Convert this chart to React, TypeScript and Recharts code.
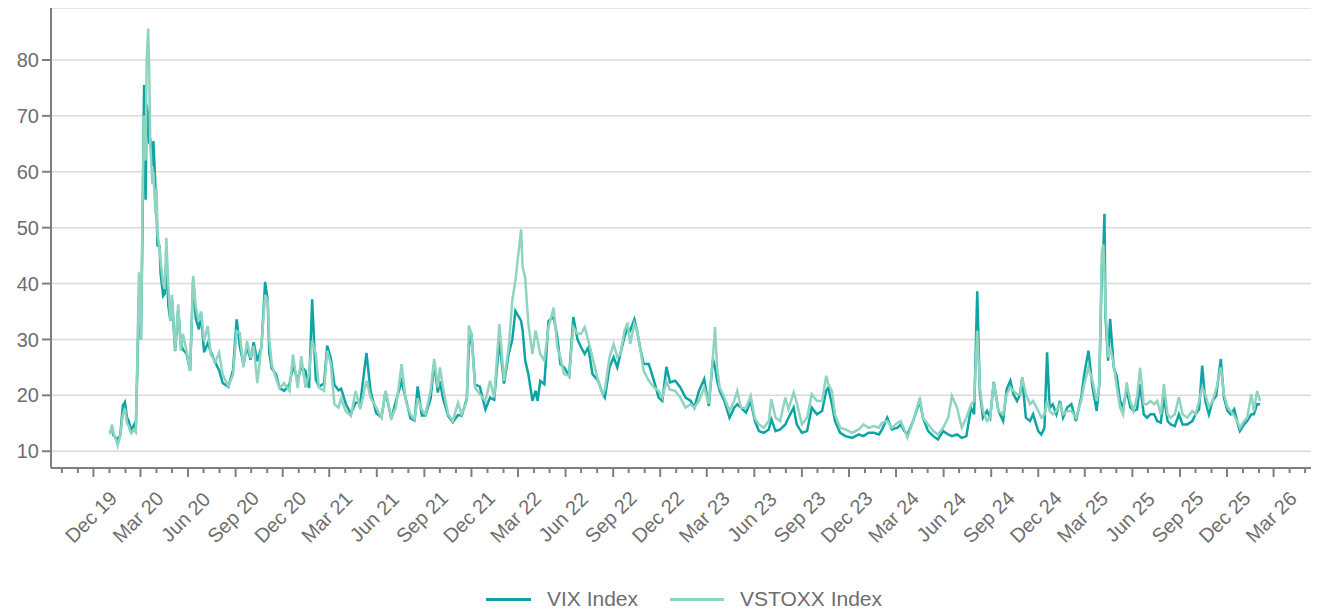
import { LineChart, Line, XAxis, YAxis, CartesianGrid, Legend } from 'recharts';

const DATES = [
  // 2020
  '2020-01-02', '2020-01-06', '2020-01-09', '2020-01-14', '2020-01-17', '2020-01-22', '2020-01-27', '2020-01-31', '2020-02-04', '2020-02-07',
  '2020-02-12', '2020-02-18', '2020-02-21', '2020-02-24', '2020-02-27', '2020-03-02', '2020-03-05', '2020-03-08', '2020-03-11', '2020-03-13',
  '2020-03-16', '2020-03-18', '2020-03-20', '2020-03-24', '2020-03-26', '2020-03-30', '2020-04-01', '2020-04-03', '2020-04-07', '2020-04-09',
  '2020-04-14', '2020-04-17', '2020-04-20', '2020-04-24', '2020-04-28', '2020-05-01', '2020-05-07', '2020-05-13', '2020-05-18', '2020-05-22',
  '2020-05-29', '2020-06-05', '2020-06-11', '2020-06-16', '2020-06-22', '2020-06-26', '2020-07-02', '2020-07-09', '2020-07-15', '2020-07-24',
  '2020-07-31', '2020-08-07', '2020-08-18', '2020-08-27', '2020-09-03', '2020-09-09', '2020-09-16', '2020-09-23', '2020-09-30', '2020-10-06',
  '2020-10-13', '2020-10-21', '2020-10-28', '2020-11-02', '2020-11-05', '2020-11-10', '2020-11-18', '2020-11-25', '2020-12-04', '2020-12-14',
  '2020-12-21', '2020-12-30',
  // 2021
  '2021-01-06', '2021-01-14', '2021-01-21', '2021-01-27', '2021-02-03', '2021-02-09', '2021-02-19', '2021-02-25', '2021-03-04', '2021-03-11',
  '2021-03-19', '2021-03-24', '2021-04-02', '2021-04-12', '2021-04-21', '2021-04-30', '2021-05-12', '2021-05-20', '2021-05-31', '2021-06-10',
  '2021-06-18', '2021-06-29', '2021-07-08', '2021-07-19', '2021-07-27', '2021-08-05', '2021-08-13', '2021-08-19', '2021-08-27', '2021-09-03',
  '2021-09-13', '2021-09-20', '2021-09-27', '2021-10-01', '2021-10-07', '2021-10-17', '2021-10-26', '2021-11-05', '2021-11-12', '2021-11-22',
  '2021-11-26', '2021-12-01', '2021-12-08', '2021-12-17', '2021-12-28',
  // 2022
  '2022-01-06', '2022-01-14', '2022-01-24', '2022-02-02', '2022-02-11', '2022-02-18', '2022-02-24', '2022-03-07', '2022-03-10', '2022-03-15',
  '2022-03-21', '2022-03-29', '2022-04-04', '2022-04-08', '2022-04-13', '2022-04-21', '2022-04-29', '2022-05-09', '2022-05-16', '2022-05-22',
  '2022-05-29', '2022-06-08', '2022-06-16', '2022-06-24', '2022-07-01', '2022-07-08', '2022-07-15', '2022-07-23', '2022-08-03', '2022-08-12',
  '2022-08-16', '2022-08-25', '2022-09-02', '2022-09-09', '2022-09-15', '2022-09-23', '2022-09-29', '2022-10-04', '2022-10-12', '2022-10-17',
  '2022-10-23', '2022-10-30', '2022-11-09', '2022-11-19', '2022-11-28', '2022-12-05', '2022-12-13', '2022-12-20', '2022-12-30',
  // 2023
  '2023-01-09', '2023-01-19', '2023-01-29', '2023-02-05', '2023-02-14', '2023-02-24', '2023-03-05', '2023-03-13', '2023-03-17', '2023-03-21',
  '2023-03-26', '2023-04-04', '2023-04-14', '2023-04-23', '2023-04-29', '2023-05-06', '2023-05-16', '2023-05-25', '2023-06-02', '2023-06-10',
  '2023-06-19', '2023-06-29', '2023-07-04', '2023-07-12', '2023-07-21', '2023-07-31', '2023-08-06', '2023-08-16', '2023-08-22', '2023-09-01',
  '2023-09-11', '2023-09-20', '2023-09-30', '2023-10-10', '2023-10-18', '2023-10-22', '2023-10-29', '2023-11-04', '2023-11-14', '2023-11-24',
  '2023-12-07', '2023-12-20', '2023-12-29',
  // 2024
  '2024-01-08', '2024-01-18', '2024-01-28', '2024-02-03', '2024-02-13', '2024-02-22', '2024-03-04', '2024-03-10', '2024-03-17', '2024-03-23',
  '2024-04-03', '2024-04-16', '2024-04-22', '2024-05-02', '2024-05-12', '2024-05-21', '2024-05-31', '2024-06-10', '2024-06-17', '2024-06-27',
  '2024-07-06', '2024-07-15', '2024-07-24', '2024-07-30', '2024-08-05', '2024-08-10', '2024-08-16', '2024-08-24', '2024-08-30', '2024-09-06',
  '2024-09-15', '2024-09-24', '2024-10-01', '2024-10-08', '2024-10-14', '2024-10-21', '2024-10-27', '2024-10-31', '2024-11-07', '2024-11-15',
  '2024-11-21', '2024-12-01', '2024-12-07', '2024-12-13', '2024-12-18', '2024-12-23', '2024-12-29',
  // 2025
  '2025-01-05', '2025-01-12', '2025-01-18', '2025-01-26', '2025-02-03', '2025-02-12', '2025-02-22', '2025-02-28', '2025-03-08', '2025-03-16',
  '2025-03-24', '2025-03-29', '2025-04-03', '2025-04-06', '2025-04-08', '2025-04-10', '2025-04-15', '2025-04-19', '2025-04-26', '2025-05-02',
  '2025-05-08', '2025-05-14', '2025-05-21', '2025-05-28', '2025-06-03', '2025-06-10', '2025-06-16', '2025-06-23', '2025-06-29', '2025-07-06',
  '2025-07-13', '2025-07-19', '2025-07-26', '2025-08-01', '2025-08-08', '2025-08-14', '2025-08-22', '2025-08-30', '2025-09-06', '2025-09-15',
  '2025-09-25', '2025-10-01', '2025-10-08', '2025-10-14', '2025-10-20', '2025-10-27', '2025-11-03', '2025-11-10', '2025-11-19', '2025-11-25',
  '2025-12-02', '2025-12-08', '2025-12-15', '2025-12-22', '2025-12-26',
  // 2026
  '2026-01-03', '2026-01-09', '2026-01-17', '2026-01-22', '2026-01-28', '2026-02-03',
];

const VIX = [
  // 2020
  13.5, 14.0, 12.8, 12.4, 12.1, 12.9, 18.2, 18.8, 16.0, 15.5,
  13.8, 14.8, 14.0, 25.0, 38.0, 30.0, 50.0, 75.5, 55.0, 72.0,
  70.0, 65.0, 66.0, 61.0, 65.5, 57.0, 53.5, 46.8, 46.7, 41.7,
  37.8, 38.2, 43.8, 35.9, 33.3, 37.2, 27.9, 35.3, 29.3, 28.2,
  27.5, 24.5, 40.8, 33.7, 31.8, 34.7, 27.7, 29.3, 27.8, 25.8,
  24.5, 22.2, 21.5, 24.5, 33.6, 28.8, 25.6, 28.6, 26.4, 29.5,
  26.1, 28.7, 40.3, 37.1, 27.6, 24.8, 23.8, 21.3, 20.8, 22.0,
  25.2, 22.8,
  // 2021
  25.1, 24.4, 21.3, 37.2, 22.9, 21.6, 22.1, 28.9, 26.7, 21.9,
  20.9, 21.2, 18.5, 16.7, 18.7, 18.6, 27.6, 20.7, 16.8, 16.1,
  20.7, 15.8, 19.0, 22.5, 19.4, 15.9, 15.5, 21.6, 16.4, 16.4,
  19.4, 25.7, 20.5, 22.5, 19.5, 16.3, 15.2, 16.5, 16.3, 19.4,
  28.6, 31.1, 21.9, 21.6, 17.5,
  // 2022
  19.6, 19.2, 29.9, 22.1, 27.4, 30.0, 35.1, 33.3, 31.6, 26.2,
  23.8, 19.0, 20.8, 19.0, 22.6, 22.0, 33.3, 34.0, 30.4, 25.6,
  25.0, 23.5, 34.0, 30.0, 28.6, 27.4, 28.6, 23.8, 22.6, 20.2,
  19.6, 25.0, 26.8, 25.0, 27.4, 30.5, 32.0, 31.6, 33.6, 31.6,
  28.6, 25.6, 25.6, 22.6, 19.6, 19.0, 25.1, 22.3, 22.6,
  // 2023
  21.4, 19.6, 19.0, 17.8, 20.8, 22.9, 18.1, 26.5, 25.0, 22.6,
  20.8, 19.0, 16.0, 17.8, 18.4, 17.8, 16.9, 19.0, 15.4, 13.6,
  13.3, 13.9, 15.7, 13.6, 13.9, 14.8, 16.0, 17.8, 14.8, 13.3,
  13.6, 17.8, 16.6, 17.2, 20.8, 21.4, 18.4, 15.4, 13.3, 12.7,
  12.4, 13.0, 12.7,
  // 2024
  13.3, 13.3, 13.0, 13.9, 16.0, 13.9, 14.2, 14.8, 13.6, 13.0,
  15.4, 19.0, 16.0, 13.6, 12.7, 12.1, 13.6, 13.0, 12.7, 13.0,
  12.4, 12.7, 17.8, 16.6, 38.6, 20.8, 16.0, 17.2, 16.0, 22.4,
  17.2, 15.4, 21.1, 22.6, 20.2, 19.0, 20.2, 23.2, 16.0, 15.4,
  16.6, 13.6, 13.0, 14.2, 27.7, 17.8, 18.4,
  // 2025
  16.6, 19.0, 16.0, 17.8, 18.4, 15.4, 19.6, 23.8, 28.0, 21.4,
  17.2, 22.0, 43.0, 46.5, 52.5, 34.0, 26.2, 33.7, 25.0, 23.3,
  19.1, 17.9, 20.9, 17.9, 17.2, 17.5, 22.0, 16.6, 16.0, 16.6,
  16.6, 15.4, 15.1, 19.7, 15.4, 14.8, 14.5, 16.6, 14.8, 14.8,
  15.4, 16.6, 17.5, 25.3, 19.0, 16.6, 19.0, 19.9, 26.5, 19.6,
  17.2, 16.6, 17.5, 14.8, 13.6,
  // 2026
  14.8, 15.4, 16.6, 16.6, 18.4, 18.4,
];

const VSTOXX = [
  // 2020
  13.0, 14.8, 13.2, 12.0, 11.0, 12.8, 16.5, 17.6, 15.0, 14.5,
  13.2, 13.8, 13.4, 27.0, 42.0, 30.0, 54.0, 70.0, 62.0, 80.0,
  85.6, 78.0, 65.0, 57.8, 60.0, 52.4, 57.0, 48.8, 46.4, 44.0,
  39.9, 39.0, 48.2, 39.3, 33.3, 38.0, 28.0, 36.3, 28.0, 31.0,
  28.0, 24.3, 41.4, 35.7, 33.3, 35.0, 29.7, 32.4, 27.3, 26.0,
  27.6, 23.7, 21.6, 23.7, 31.5, 31.2, 25.0, 29.7, 26.7, 28.8,
  22.2, 29.0, 38.0, 37.0, 30.0, 25.5, 23.1, 21.3, 22.2, 20.8,
  27.3, 21.3,
  // 2021
  27.0, 21.4, 23.8, 29.8, 27.4, 21.4, 20.8, 28.0, 25.6, 18.4,
  17.8, 19.4, 17.2, 16.3, 20.8, 17.5, 22.6, 19.6, 17.8, 16.0,
  20.8, 16.0, 17.8, 25.6, 19.0, 16.6, 15.7, 19.5, 17.4, 16.6,
  20.8, 26.5, 21.4, 25.0, 21.4, 16.6, 15.4, 18.7, 16.6, 19.0,
  32.5, 31.0, 21.4, 20.2, 19.0,
  // 2022
  22.6, 19.6, 32.8, 22.6, 28.6, 37.0, 40.5, 49.7, 42.9, 41.0,
  32.8, 27.4, 31.6, 29.8, 27.4, 26.2, 32.2, 35.7, 28.6, 26.8,
  23.8, 23.5, 32.2, 31.0, 31.0, 32.2, 29.8, 26.8, 22.6, 20.2,
  21.0, 26.8, 29.2, 26.8, 27.4, 31.6, 33.0, 29.2, 32.8, 31.6,
  28.6, 24.4, 22.6, 21.4, 20.8, 19.6, 22.5, 21.0, 20.8,
  // 2023
  19.6, 17.8, 18.4, 17.8, 19.0, 21.4, 18.5, 27.0, 32.2, 25.0,
  21.4, 19.6, 17.2, 19.0, 20.8, 17.8, 17.8, 19.9, 15.8, 14.8,
  14.2, 15.4, 19.3, 16.0, 15.4, 19.6, 17.5, 20.5, 18.7, 14.8,
  16.0, 20.2, 19.0, 19.0, 23.5, 22.0, 20.8, 16.6, 14.2, 13.9,
  13.3, 13.9, 14.8,
  // 2024
  14.2, 14.5, 14.2, 15.1, 15.4, 14.2, 15.1, 15.4, 13.9, 12.4,
  15.4, 19.6, 16.0, 14.8, 13.6, 13.0, 14.2, 16.0, 19.9, 17.8,
  14.2, 16.0, 18.4, 19.0, 31.6, 21.4, 17.2, 15.4, 16.0, 22.3,
  17.2, 16.6, 20.2, 21.4, 20.8, 20.2, 20.2, 23.2, 20.2, 18.4,
  19.0, 17.2, 16.0, 16.6, 19.0, 17.2, 16.6,
  // 2025
  17.2, 18.4, 16.6, 17.2, 17.2, 16.0, 19.0, 22.0, 25.0, 22.6,
  19.0, 21.7, 45.9, 47.0, 42.0, 35.7, 26.8, 28.6, 25.5, 21.4,
  17.9, 16.6, 22.3, 19.0, 17.2, 19.7, 24.9, 18.4, 18.4, 19.0,
  18.4, 19.0, 16.6, 22.0, 16.6, 16.0, 16.6, 19.7, 16.6, 16.0,
  17.2, 16.6, 19.0, 21.4, 20.2, 17.9, 19.0, 21.1, 25.0, 20.2,
  17.9, 17.2, 16.3, 15.1, 14.2,
  // 2026
  15.4, 16.0, 20.2, 17.2, 20.8, 19.0,
];

const Y_TICKS = [10, 20, 30, 40, 50, 60, 70, 80];

const QUARTER_LABELS = [
  'Dec 19', 'Mar 20', 'Jun 20', 'Sep 20', 'Dec 20', 'Mar 21', 'Jun 21', 'Sep 21', 'Dec 21',
  'Mar 22', 'Jun 22', 'Sep 22', 'Dec 22', 'Mar 23', 'Jun 23', 'Sep 23', 'Dec 23',
  'Mar 24', 'Jun 24', 'Sep 24', 'Dec 24', 'Mar 25', 'Jun 25', 'Sep 25', 'Dec 25', 'Mar 26',
];

const SERIES = [
  { key: 'vix', name: 'VIX Index', color: '#0ea4a4', legendLine: 45 },
  { key: 'vstoxx', name: 'VSTOXX Index', color: '#8fd3c1', legendLine: 54 },
];

const AXIS_COLOR = '#7f7f7f';
const TEXT_COLOR = '#6e6e6e';
const X_START = Date.UTC(2019, 8, 10);
const X_END = Date.UTC(2026, 4, 24);

const data = DATES.map((d, i) => ({
  t: Date.parse(d),
  vix: VIX[i],
  vstoxx: VSTOXX[i],
}));

// one tick per month, every third one is a labelled major tick
const monthTicks: number[] = [];
{
  let y = 2019;
  let m = 9;
  while (y < 2026 || (y === 2026 && m <= 4)) {
    monthTicks.push(Date.UTC(y, m, 1));
    m++;
    if (m === 12) {
      m = 0;
      y++;
    }
  }
}
const tickLabels = new Map<number, string>();
{
  let q = 0;
  for (const t of monthTicks) {
    if (new Date(t).getUTCMonth() % 3 === 2) tickLabels.set(t, QUARTER_LABELS[q++]);
  }
}

function MonthTick(props: any) {
  const { x, y, payload } = props;
  const label = tickLabels.get(payload.value);
  const major = label !== undefined;
  const cx = x - 2.5;
  const cy = y + 49;
  return (
    <g>
      <line x1={x} y1={y} x2={x} y2={y + (major ? 9 : 5)} stroke={AXIS_COLOR} strokeWidth={2} />
      {major && (
        <text
          x={cx}
          y={cy}
          transform={`rotate(-45 ${cx} ${cy})`}
          textAnchor="middle"
          dominantBaseline="central"
          fontSize={20}
          fill={TEXT_COLOR}
        >
          {label}
        </text>
      )}
    </g>
  );
}

function renderLegend() {
  return (
    <div
      style={{
        display: 'flex',
        justifyContent: 'center',
        alignItems: 'center',
        height: 30,
        paddingLeft: 43,
        position: 'relative',
        top: 2,
        fontSize: 21,
        color: TEXT_COLOR,
      }}
    >
      {SERIES.map((s, i) => (
        <div key={s.key} style={{ display: 'flex', alignItems: 'center', marginLeft: i === 0 ? 0 : 32 }}>
          <span style={{ display: 'inline-block', width: s.legendLine, height: 3, background: s.color, marginRight: 16 }} />
          <span>{s.name}</span>
        </div>
      ))}
    </div>
  );
}

export default function App() {
  return (
    <div style={{ width: 1309, height: 604, fontFamily: '"Liberation Sans", Arial, sans-serif' }}>
      <LineChart width={1309} height={604} data={data} margin={{ top: 0, right: 0, bottom: 0, left: 0 }}>
        <CartesianGrid vertical={false} stroke="#dadada" strokeWidth={1.5} />
        <XAxis
          dataKey="t"
          type="number"
          domain={[X_START, X_END]}
          ticks={monthTicks}
          interval={0}
          tick={MonthTick}
          tickLine={false}
          tickSize={0}
          tickMargin={0}
          height={114}
          axisLine={{ stroke: AXIS_COLOR, strokeWidth: 2 }}
          allowDataOverflow
        />
        <YAxis
          type="number"
          domain={[7, 89.3]}
          ticks={Y_TICKS}
          interval={0}
          width={43}
          tickSize={9}
          tickMargin={3}
          tick={{ fontSize: 20, fill: TEXT_COLOR }}
          tickLine={{ stroke: AXIS_COLOR, strokeWidth: 2 }}
          axisLine={{ stroke: AXIS_COLOR, strokeWidth: 2 }}
          allowDataOverflow
        />
        <Legend verticalAlign="bottom" height={30} content={renderLegend} />
        {SERIES.map((s) => (
          <Line
            key={s.key}
            type="linear"
            dataKey={s.key}
            name={s.name}
            stroke={s.color}
            strokeWidth={2.5}
            dot={false}
            activeDot={false}
            isAnimationActive={false}
          />
        ))}
      </LineChart>
    </div>
  );
}
